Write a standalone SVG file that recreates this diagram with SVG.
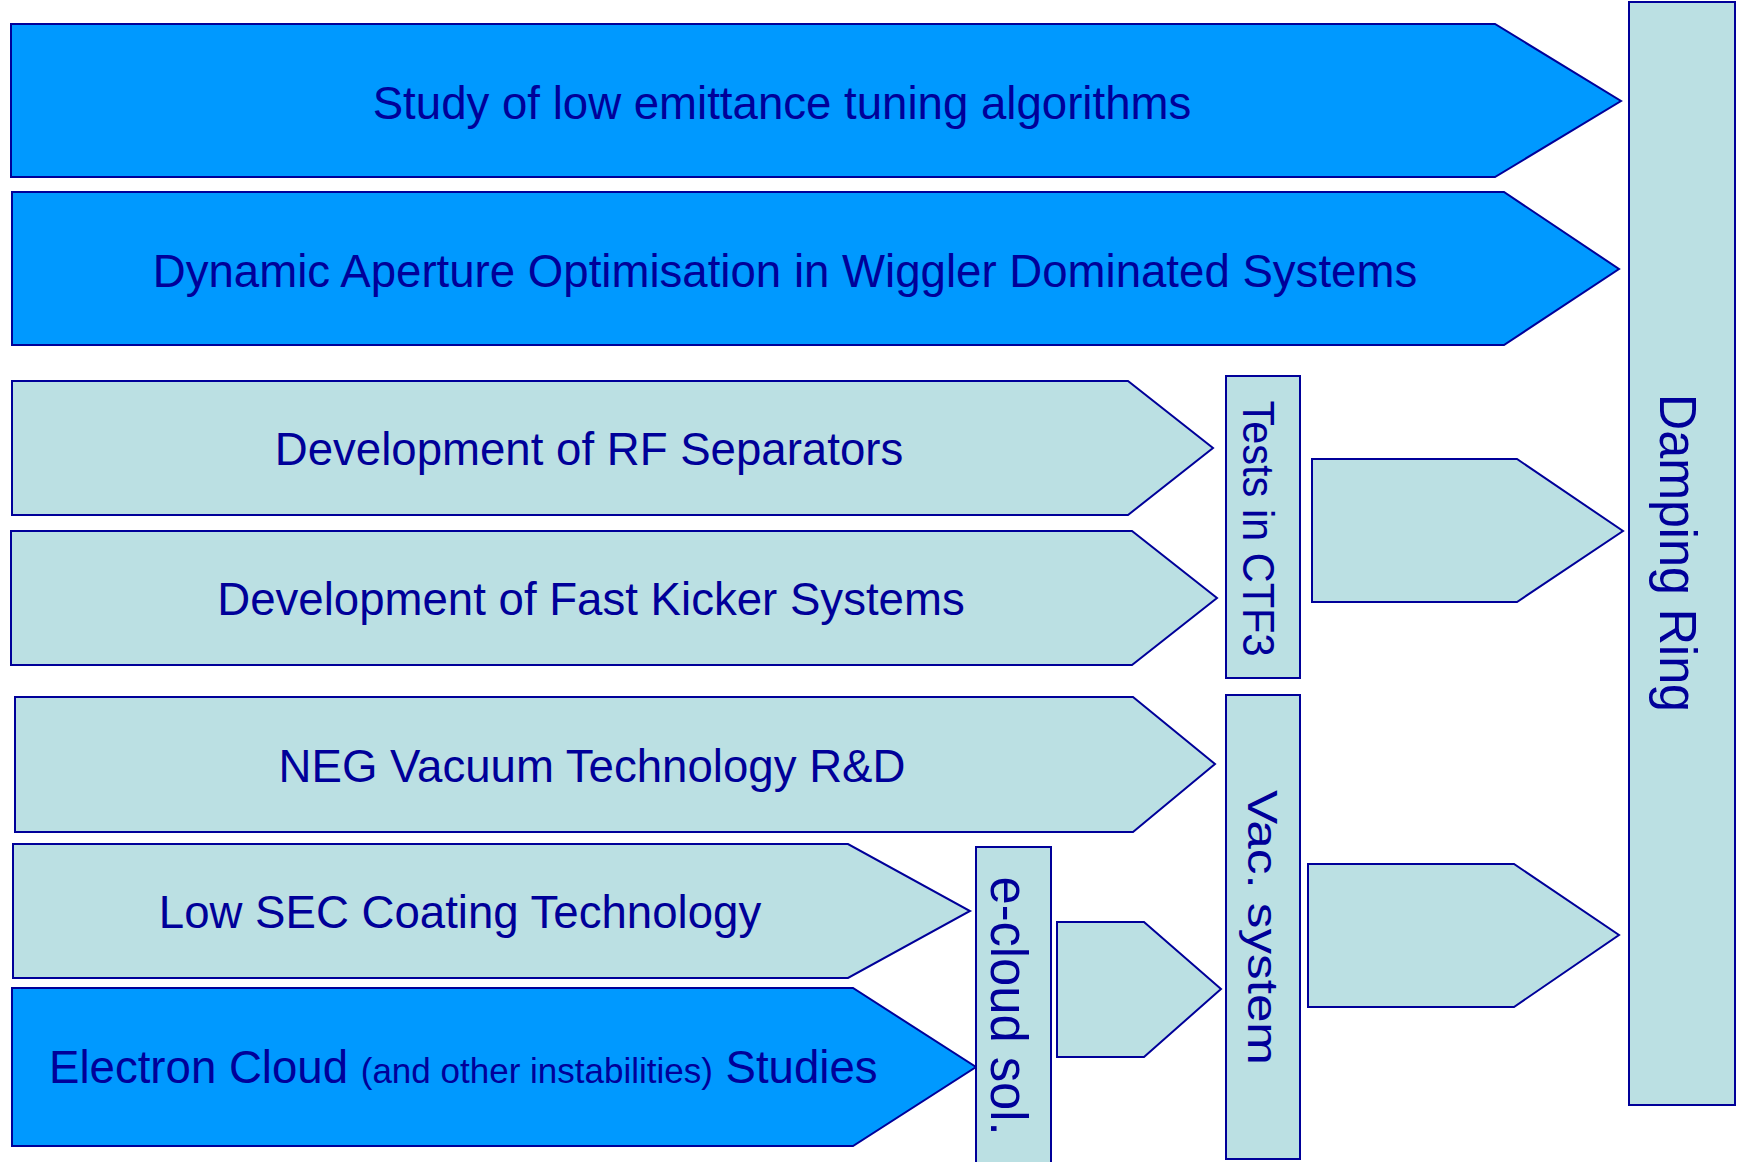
<svg xmlns="http://www.w3.org/2000/svg" width="1738" height="1162" viewBox="0 0 1738 1162">
  <style>
    .strong { fill: #0099FF; stroke: #000099; stroke-width: 2; stroke-linejoin: miter; }
    .soft { fill: #BBE0E3; stroke: #000099; stroke-width: 2; stroke-linejoin: miter; }
    .label { font-family: "Liberation Sans", Arial, sans-serif; fill: #000099; font-size: 45.6px; text-anchor: middle; }
    .small { font-size: 35px; }
    .vlabel { font-family: "Liberation Sans", Arial, sans-serif; fill: #000099; text-anchor: middle; }
  </style>
  <rect width="1738" height="1162" fill="#FFFFFF"/>

  <!-- Target block on the right -->
  <g id="damping-ring">
    <rect class="soft" x="1629" y="2" width="106" height="1103"/>
    <text class="vlabel" font-size="51" textLength="318" lengthAdjust="spacingAndGlyphs" transform="translate(1660 553) rotate(90)">Damping Ring</text>
  </g>

  <!-- Study streams (chevrons) -->
  <g id="low-emittance-tuning">
    <polygon class="strong" points="11,24 1495,24 1621,101 1495,177 11,177"/>
    <text class="label" x="782" y="119">Study of low emittance tuning algorithms</text>
  </g>

  <g id="dynamic-aperture">
    <polygon class="strong" points="12,192 1504,192 1619,269 1504,345 12,345"/>
    <text class="label" x="785" y="287">Dynamic Aperture Optimisation in Wiggler Dominated Systems</text>
  </g>

  <g id="rf-separators">
    <polygon class="soft" points="12,381 1128,381 1213,448 1128,515 12,515"/>
    <text class="label" x="589" y="465">Development of RF Separators</text>
  </g>

  <g id="fast-kicker">
    <polygon class="soft" points="11,531 1132,531 1217,598 1132,665 11,665"/>
    <text class="label" x="591" y="615">Development of Fast Kicker Systems</text>
  </g>

  <g id="neg-vacuum">
    <polygon class="soft" points="15,697 1133,697 1215,764 1133,832 15,832"/>
    <text class="label" x="592" y="782">NEG Vacuum Technology R&amp;D</text>
  </g>

  <g id="low-sec-coating">
    <polygon class="soft" points="13,844 848,844 970,911 848,978 13,978"/>
    <text class="label" x="460" y="928">Low SEC Coating Technology</text>
  </g>

  <g id="electron-cloud">
    <polygon class="strong" points="12,988 853,988 976,1067 853,1146 12,1146"/>
    <text class="label" x="49" y="1083" style="text-anchor:start">Electron Cloud <tspan class="small">(and other instabilities)</tspan> Studies</text>
  </g>

  <!-- Intermediate collectors -->
  <g id="tests-ctf3">
    <rect class="soft" x="1226" y="376" width="74" height="302"/>
    <text class="vlabel" font-size="45" textLength="256" lengthAdjust="spacingAndGlyphs" transform="translate(1243 528.5) rotate(90)">Tests in CTF3</text>
  </g>

  <g id="vac-system">
    <rect class="soft" x="1226" y="695" width="74" height="464"/>
    <text class="vlabel" font-size="43" textLength="275" lengthAdjust="spacingAndGlyphs" transform="translate(1248 927.5) rotate(90)">Vac. system</text>
  </g>

  <g id="e-cloud-sol">
    <rect class="soft" x="976" y="847" width="75" height="330"/>
    <text class="vlabel" font-size="51" textLength="259" lengthAdjust="spacingAndGlyphs" transform="translate(991 1006) rotate(90)">e-cloud sol.</text>
  </g>

  <!-- Hand-off chevrons feeding the next stage -->
  <g id="ecloud-to-vac">
    <polygon class="soft" points="1057,922 1144,922 1221,989 1144,1057 1057,1057"/>
  </g>

  <g id="ctf3-to-ring">
    <polygon class="soft" points="1312,459 1517,459 1623,531 1517,602 1312,602"/>
  </g>

  <g id="vac-to-ring">
    <polygon class="soft" points="1308,864 1514,864 1619,935 1514,1007 1308,1007"/>
  </g>

  <g id="connectors"/>
</svg>
